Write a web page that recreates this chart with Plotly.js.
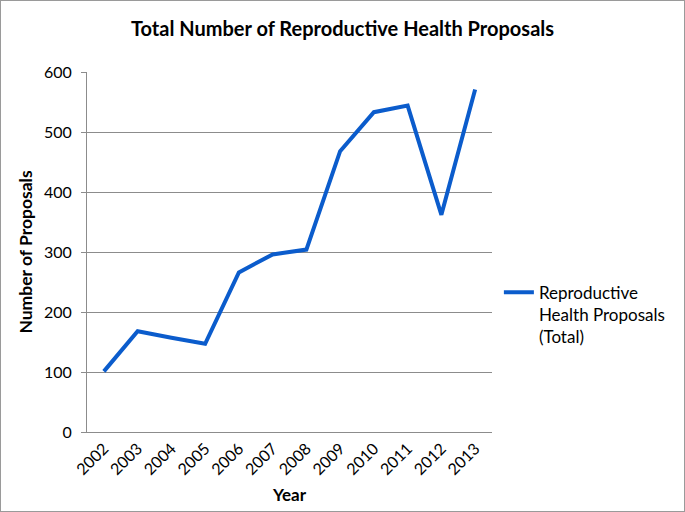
<!DOCTYPE html>
<html><head><meta charset="utf-8">
<script src="https://cdn.plot.ly/plotly-3.0.1.min.js"></script>
<style>
html,body{margin:0;padding:0;background:#fff;}
#wrap{width:685px;height:512px;box-sizing:border-box;border:1px solid #9a9a9a;}
#chart{width:683px;height:510px;}
</style></head>
<body><div id="wrap"><div id="chart"></div></div>
<script>
const years = ['2002','2003','2004','2005','2006','2007','2008','2009','2010','2011','2012','2013'];
const proposals = [101, 168, 157, 147, 266, 296, 304, 468, 533, 544, 362, 571];
const seriesName = 'Reproductive<br>Health Proposals<br>(Total)';
const yTicks = [0, 100, 200, 300, 400, 500, 600];

const FONT = 'Lato, "Open Sans", sans-serif';
Plotly.newPlot('chart', [{
  x: years, y: proposals, type: 'scatter', mode: 'lines', name: seriesName,
  line: {color: '#0b5ccc', width: 4}
}], {
  width: 683, height: 510,
  margin: {l: 86, r: 192, t: 71, b: 79},
  paper_bgcolor: '#fff', plot_bgcolor: '#fff',
  font: {family: FONT, size: 16, color: '#000'},
  title: {text: '<b>Total Number of Reproductive Health Proposals</b>', font: {family: FONT, size: 20, color: '#000'}, x: 0.5, xanchor: 'center', y: 0.945, yanchor: 'middle'},
  showlegend: true,
  legend: {x: 1.017, y: 0.437, xanchor: 'left', yanchor: 'top', valign: 'top', font: {family: FONT, size: 17}, bgcolor: 'rgba(0,0,0,0)', itemwidth: 30},
  xaxis: {
    type: 'category', range: [-0.5, 11.5], tickangle: -45, showgrid: false,
    showline: true, linecolor: '#8c8c8c', linewidth: 1, ticks: '', zeroline: false,
    tickfont: {family: FONT, size: 16},
    title: {text: '<b>Year</b>', font: {family: FONT, size: 17}, standoff: 11}
  },
  yaxis: {
    range: [0, 600], tickvals: yTicks, showgrid: true, gridcolor: '#8c8c8c', gridwidth: 1,
    showline: true, linecolor: '#8c8c8c', linewidth: 1, ticks: 'outside', ticklen: 5, tickcolor: '#8c8c8c',
    ticklabelstandoff: 6,
    zeroline: false, tickfont: {family: FONT, size: 16},
    title: {text: '<b>Number of Proposals</b>', font: {family: FONT, size: 17.5}, standoff: 6}
  }
}, {displayModeBar: false, staticPlot: true});
</script></body></html>
